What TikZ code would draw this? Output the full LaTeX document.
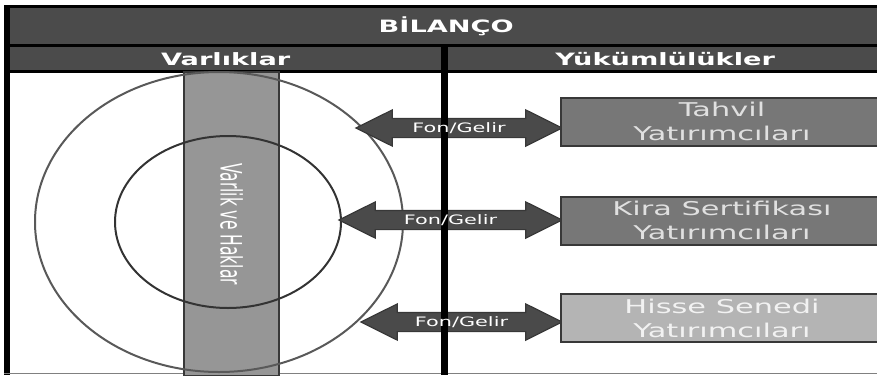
\documentclass[tikz,border=0pt]{standalone}
\usepackage{graphicx}
\usepackage{fontspec}
\setsansfont[FakeStretch=1.6]{DejaVu Sans}
\newfontfamily\bandfont{DejaVu Sans}
\usetikzlibrary{shapes.arrows}
\usetikzlibrary{shapes.geometric}

\definecolor{barcol}{HTML}{4B4B4B}
\definecolor{bandcol}{HTML}{969696}
\definecolor{edgecol}{HTML}{383838}
\definecolor{arrowcol}{HTML}{4A4A4A}
\definecolor{boxdark}{HTML}{777777}
\definecolor{boxlight}{HTML}{B4B4B4}

\tikzset{headbar/.style={fill=barcol, text=white, inner sep=0pt, anchor=north west, font=\sffamily\bfseries\fontsize{17}{20}\selectfont}}
\tikzset{band/.style={fill=bandcol, draw=edgecol, line width=2pt, inner sep=0pt}}
\tikzset{ring/.style={ellipse, draw=#1, line width=2pt, inner sep=0pt}}
\tikzset{flow/.style={double arrow, fill=arrowcol, draw=edgecol, line width=1.2pt, inner xsep=0pt, inner ysep=9pt,
  double arrow head extend=8.5pt, double arrow tip angle=53}}
\tikzset{flowtext/.style={text=white, inner sep=0pt, font=\sffamily\fontsize{13}{15}\selectfont}}
\tikzset{investor/.style={fill=#1, draw=edgecol, line width=2pt, inner sep=0pt, anchor=west, align=center,
  minimum width=322pt, minimum height=48pt, font=\sffamily\fontsize{19}{24}\selectfont}}

\begin{document}
\begin{tikzpicture}[x=1pt, y=-1pt]
\useasboundingbox (0,0) rectangle (877,375);

% frame
\fill[black] (4,5) rectangle (882,73);
\fill[black] (4,73) rectangle (10,375);
\draw[gray, line width=1pt] (4,373.5) -- (877,373.5);

\node[headbar, minimum width=872pt, minimum height=36pt] (title) at (10,8) {BİLANÇO};
\node[headbar, minimum width=431pt, minimum height=23pt] (assets) at (10,47) {Varlıklar};
\node[headbar, minimum width=434pt, minimum height=23pt] (liab) at (448,47) {Yükümlülükler};

% left side
\node[band, minimum width=95pt, minimum height=304pt] (band) at (231.5,224)
  {\rotatebox{-90}{\color{white}\bandfont\fontsize{15.5}{18}\selectfont\scalebox{1}[1.9]{Varlik ve Haklar}}};
\node[ring=black!65, minimum width=368pt, minimum height=300pt] (outer) at (219,222) {};
\node[ring=black!80, minimum width=226pt, minimum height=172pt] (inner) at (228,222) {};

% flows
\node[flow, minimum height=206pt] (fund1) at (459,128) {};
\node[flow, minimum height=223pt] (fund2) at (450.5,220) {};
\node[flow, minimum height=201pt] (fund3) at (461.5,322) {};

\fill[black] (441,44) rectangle (448,375);

\node[flowtext] (lab1) at (fund1) {Fon/Gelir};
\node[flowtext] (lab2) at (fund2) {Fon/Gelir};
\node[flowtext] (lab3) at (fund3) {Fon/Gelir};

% investors
\node[investor=boxdark, text=black!12] (bond) at (560,121.5) {Tahvil\\Yatırımcıları};
\node[investor=boxdark, text=black!12] (sukuk) at (560,220.5) {Kira Sertifikası\\Yatırımcıları};
\node[investor=boxlight, text=black!5] (equity) at (560,318) {Hisse Senedi\\Yatırımcıları};
\end{tikzpicture}
\end{document}
